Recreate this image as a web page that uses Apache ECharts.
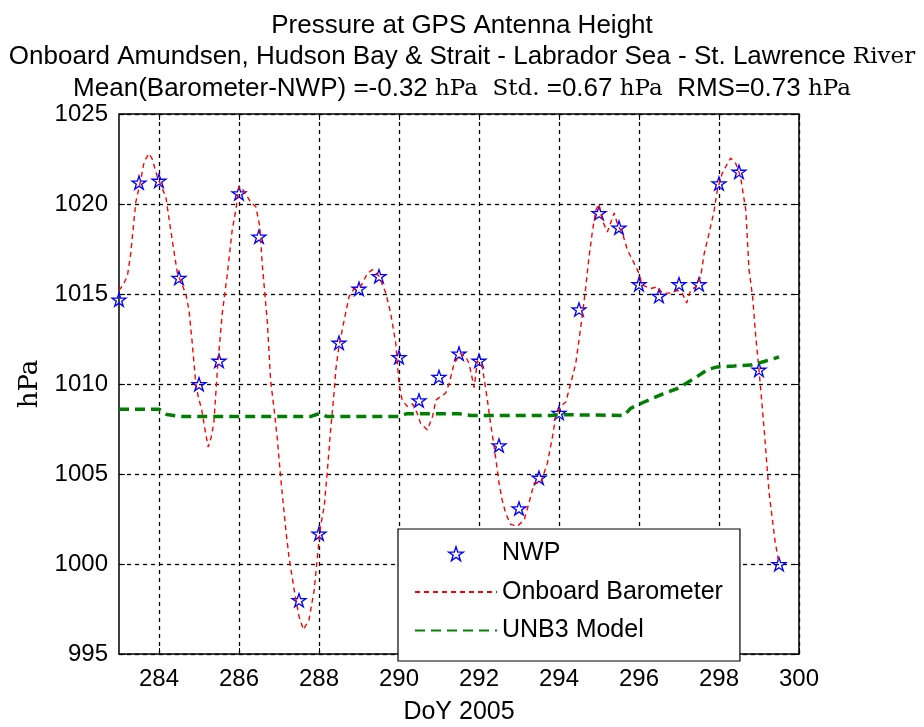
<!DOCTYPE html>
<html>
<head>
<meta charset="utf-8">
<script src="https://cdn.jsdelivr.net/npm/echarts@6/dist/echarts.min.js"></script>
<style>html,body{margin:0;padding:0;background:#fff}#c{width:924px;height:727px}</style>
</head>
<body>
<div id="c"></div>
<script>
// ---- data ----
const xTicks = [284, 286, 288, 290, 292, 294, 296, 298, 300];
const yTicks = [995, 1000, 1005, 1010, 1015, 1020, 1025];

const nwpDays = [283.0, 283.5, 284.0, 284.5, 285.0, 285.5, 286.0, 286.5, 287.5, 288.0, 288.5, 289.0, 289.5,
  290.0, 290.5, 291.0, 291.5, 292.0, 292.5, 293.0, 293.5, 294.0, 294.5, 295.0, 295.5, 296.0, 296.5,
  297.0, 297.5, 298.0, 298.5, 299.0, 299.5];
const nwpValues = [1014.7, 1021.2, 1021.3, 1015.9, 1010.0, 1011.3, 1020.6, 1018.2, 998.0, 1001.7, 1012.3, 1015.3, 1016.0,
  1011.5, 1009.1, 1010.4, 1011.7, 1011.3, 1006.6, 1003.1, 1004.8, 1008.4, 1014.15, 1019.5, 1018.7, 1015.55, 1014.9,
  1015.55, 1015.55, 1021.15, 1021.8, 1010.8, 1000.0];

const baroDays = [283.00, 283.10, 283.21, 283.29, 283.42, 283.54, 283.63, 283.75, 283.83, 283.96,
  284.17, 284.33, 284.46, 284.58, 284.67, 284.75, 284.83, 284.92, 284.98, 285.07, 285.15, 285.23, 285.30, 285.37,
  285.46, 285.58, 285.71, 285.83, 285.92, 286.00, 286.13, 286.29, 286.42, 286.52, 286.58, 286.71, 286.79, 286.88,
  286.96, 287.04, 287.17, 287.25, 287.38, 287.50, 287.61, 287.75, 287.88, 287.96, 288.04, 288.13, 288.21, 288.29,
  288.38, 288.42, 288.50, 288.63, 288.75, 288.88, 289.04, 289.21, 289.34, 289.50, 289.67, 289.79, 289.92, 290.00,
  290.08, 290.21, 290.34, 290.46, 290.54, 290.71, 290.84, 290.92, 291.04, 291.17, 291.25, 291.38, 291.54, 291.67,
  291.75, 291.88, 291.96, 292.08, 292.21, 292.29, 292.38, 292.50, 292.58, 292.67, 292.79, 292.96, 293.13, 293.25,
  293.38, 293.54, 293.71, 293.84, 293.92, 294.04, 294.17, 294.29, 294.42, 294.50, 294.58, 294.67, 294.75, 294.84,
  294.92, 295.00, 295.08, 295.21, 295.38, 295.46, 295.59, 295.71, 295.88, 296.00, 296.08, 296.29, 296.46, 296.58,
  296.79, 296.96, 297.08, 297.19, 297.29, 297.42, 297.54, 297.63, 297.75, 297.88, 297.96, 298.08, 298.21, 298.29,
  298.42, 298.54, 298.67, 298.75, 298.84, 298.92, 299.00, 299.13, 299.25, 299.40, 299.50];
const baroValues = [1015.2, 1015.5, 1016.0, 1017.2, 1020.1, 1021.3, 1022.35, 1022.8, 1022.5, 1021.5,
  1020.4, 1018.0, 1016.15, 1015.5, 1015.0, 1014.1, 1012.3, 1010.0, 1009.3, 1008.55, 1007.45, 1006.5, 1007.0, 1007.8,
  1010.8, 1013.9, 1016.15, 1018.55, 1019.65, 1021.0, 1020.7, 1020.1, 1019.85, 1018.75, 1016.7, 1013.4, 1010.2, 1008.55,
  1006.9, 1004.85, 1001.9, 1000.4, 998.55, 997.1, 996.35, 996.9, 998.55, 1000.4, 1002.1, 1003.2, 1005.2, 1007.45,
  1009.6, 1010.8, 1012.1, 1013.55, 1014.85, 1015.3, 1015.4, 1016.15, 1016.35, 1016.0, 1015.05, 1013.95, 1012.25, 1010.0,
  1009.1, 1008.75, 1008.9, 1008.35, 1007.8, 1007.45, 1008.2, 1009.1, 1009.3, 1009.5, 1010.0, 1011.15, 1011.7, 1011.5,
  1011.15, 1009.8, 1011.3, 1011.0, 1009.1, 1007.8, 1006.5, 1004.5, 1003.55, 1002.8, 1002.2, 1002.1, 1002.45, 1003.4,
  1004.5, 1004.5, 1005.6, 1007.1, 1008.2, 1008.75, 1009.0, 1010.0, 1011.15, 1012.45, 1013.75, 1015.4, 1017.05, 1018.55,
  1019.65, 1020.0, 1019.1, 1018.45, 1019.5, 1018.9, 1018.35, 1017.45, 1016.7, 1016.15, 1015.5, 1015.3, 1015.4, 1015.05,
  1015.05, 1015.2, 1015.05, 1014.5, 1015.2, 1015.4, 1015.95, 1017.25, 1018.35, 1019.65, 1020.8, 1021.7, 1022.25, 1022.55,
  1022.25, 1021.5, 1019.65, 1016.35, 1014.85, 1012.6, 1010.8, 1007.45, 1004.0, 1001.3, 1000.0];

const unb3Days = [283.0, 284.0, 284.2, 284.5, 287.8, 288.0, 288.2, 290.0, 290.2, 291.5, 291.8, 293.8, 294.0,
  295.63, 295.79, 296.13, 296.54, 296.96, 297.38, 297.71, 297.96, 298.38, 298.79, 299.13, 299.5];
const unb3Values = [1008.6, 1008.6, 1008.3, 1008.2, 1008.2, 1008.35, 1008.2, 1008.2, 1008.35, 1008.35, 1008.25, 1008.25, 1008.3,
  1008.25, 1008.65, 1009.0, 1009.4, 1009.75, 1010.3, 1010.8, 1010.95, 1011.0, 1011.05, 1011.25, 1011.5];

const seriesNames = ['NWP', 'Onboard Barometer', 'UNB3 Model'];

// ---- chart ----
const zip = (a, b) => a.map((d, i) => [d, b[i]]);
// hollow pentagram: outer star + reversed inner star (hole)
const STAR = 'path://M50 0 L61.23 34.55 L97.55 34.55 L68.16 55.9 L79.39 90.45 L50 69.1 L20.61 90.45 L31.84 55.9 L2.45 34.55 L38.77 34.55 Z ' +
  'M50 22.7 L43.86 41.55 L24.04 41.56 L40.06 53.23 L33.95 72.09 L50 60.45 L66.05 72.09 L59.94 53.23 L75.96 41.56 L56.14 41.55 Z';
const SANS = 'Liberation Sans';
const SERIF = 'DejaVu Serif';
const gridDash = {color: '#000', width: 1.3, type: [4, 4]};

const chart = echarts.init(document.getElementById('c'), null, {renderer: 'canvas'});
chart.setOption({
  animation: false,
  backgroundColor: '#fff',
  title: {
    left: 'center', top: 10, padding: 0,
    text: '{s|Pressure at GPS Antenna Height}\n' +
          '{s|Onboard Amundsen, Hudson Bay & Strait - Labrador Sea - St. Lawrence }{r|River}\n' +
          '{s|Mean(Barometer-NWP) =-0.32 }{r|hPa}{s|  }{r|Std.}{s| =0.67 }{r|hPa}{s|  RMS=0.73 }{r|hPa}',
    textStyle: {
      fontFamily: SANS, fontSize: 26, fontWeight: 'normal', color: '#000', lineHeight: 31.5,
      rich: {
        s: {fontFamily: SANS, fontSize: 26, color: '#000', lineHeight: 31.5},
        r: {fontFamily: SERIF, fontSize: 23, color: '#000', lineHeight: 31.5}
      }
    }
  },
  grid: {left: 119, right: 125, top: 114, bottom: 73, show: true, borderColor: '#000', borderWidth: 1.5,
    backgroundColor: '#fff', outerBoundsMode: 'none', containLabel: false},
  legend: {
    orient: 'vertical', left: 398, top: 529,
    padding: [12, 17, 18, 16],
    itemWidth: 82, itemHeight: 18, itemGap: 13.5,
    backgroundColor: '#fff', borderColor: '#000', borderWidth: 1.2,
    textStyle: {fontFamily: SANS, fontSize: 25, color: '#000', lineHeight: 25},
    data: [
      {name: seriesNames[0]},
      {name: seriesNames[1], itemStyle: {opacity: 0}},
      {name: seriesNames[2], itemStyle: {opacity: 0}}
    ]
  },
  xAxis: [{
    type: 'value', min: 283, max: 300, interval: 1,
    name: 'DoY 2005', nameLocation: 'middle', nameGap: 46,
    nameTextStyle: {fontFamily: SANS, fontSize: 25, color: '#000'},
    axisLine: {show: false},
    axisTick: {show: true, inside: true, length: 6, customValues: xTicks, lineStyle: {color: '#000'}},
    axisLabel: {customValues: xTicks, fontFamily: SANS, fontSize: 24, color: '#000', margin: 13},
    splitLine: {show: true, lineStyle: gridDash}
  }, {
    type: 'value', min: 283, max: 300, interval: 1, position: 'top',
    axisLine: {show: false},
    axisTick: {show: true, inside: true, length: 6, customValues: xTicks, lineStyle: {color: '#000'}},
    axisLabel: {show: false},
    splitLine: {show: false}
  }],
  yAxis: [{
    type: 'value', min: 995, max: 1025, interval: 5,
    name: 'hPa', nameLocation: 'middle', nameGap: 74,
    nameTextStyle: {fontFamily: SERIF, fontSize: 26, color: '#000'},
    axisLine: {show: false},
    axisTick: {show: true, inside: true, length: 6, lineStyle: {color: '#000'}},
    axisLabel: {fontFamily: SANS, fontSize: 24, color: '#000', margin: 11, formatter: v => String(v)},
    splitLine: {show: true, lineStyle: gridDash}
  }, {
    type: 'value', min: 995, max: 1025, interval: 5, position: 'right',
    axisLine: {show: false},
    axisTick: {show: true, inside: true, length: 6, lineStyle: {color: '#000'}},
    axisLabel: {show: false},
    splitLine: {show: false}
  }],
  series: [{
    name: seriesNames[0], type: 'scatter', xAxisIndex: 0, yAxisIndex: 0,
    data: zip(nwpDays, nwpValues),
    symbol: STAR, symbolSize: 18, symbolKeepAspect: true,
    itemStyle: {color: '#0000ff', borderWidth: 0, opacity: 1},
    emphasis: {disabled: true},
    z: 3
  }, {
    name: seriesNames[1], type: 'line', xAxisIndex: 0, yAxisIndex: 0,
    data: zip(baroDays, baroValues),
    showSymbol: false, symbol: 'none', smooth: false,
    lineStyle: {color: '#ff0000', width: 1.4, type: [5, 4]},
    itemStyle: {color: '#ff0000'},
    z: 4
  }, {
    name: seriesNames[2], type: 'line', xAxisIndex: 0, yAxisIndex: 0,
    data: zip(unb3Days, unb3Values),
    showSymbol: false, symbol: 'none',
    lineStyle: {color: '#008000', width: 3.5, type: [10, 6]},
    itemStyle: {color: '#008000'},
    z: 5
  }]
});
</script>
</body>
</html>
